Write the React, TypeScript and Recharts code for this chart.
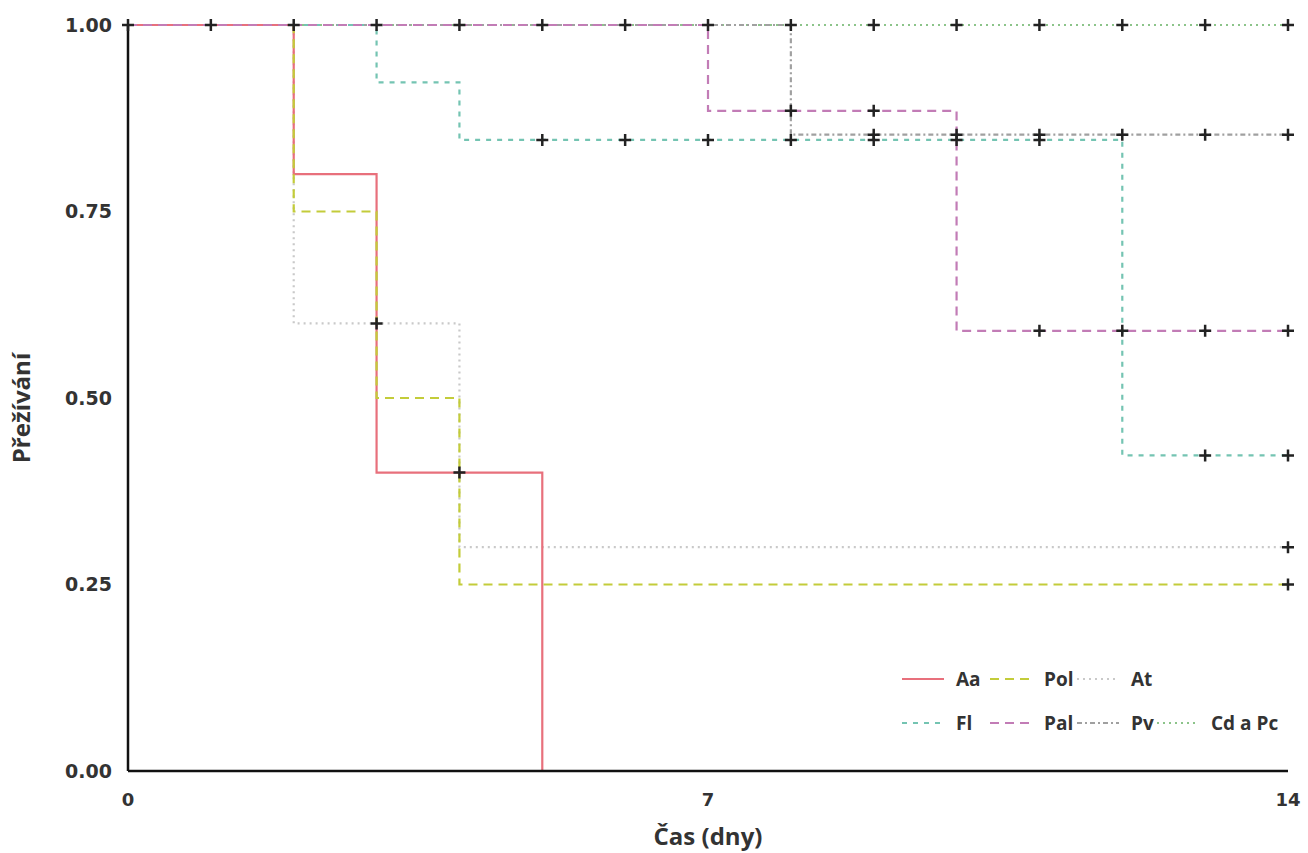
import React from 'react';
import { ComposedChart, Line, Scatter, XAxis, YAxis } from 'recharts';

type Pt = { t: number; s: number };

const xTicks = [0, 7, 14];
const yTicks = [0, 0.25, 0.5, 0.75, 1];

// Kaplan-Meier steps (time in days, survival)
const aa: Pt[] = [
  { t: 0, s: 1 },
  { t: 2, s: 0.8 },
  { t: 3, s: 0.4 },
  { t: 5, s: 0 },
];
const pol: Pt[] = [
  { t: 0, s: 1 },
  { t: 2, s: 0.75 },
  { t: 3, s: 0.5 },
  { t: 4, s: 0.25 },
  { t: 14, s: 0.25 },
];
const at: Pt[] = [
  { t: 0, s: 1 },
  { t: 2, s: 0.6 },
  { t: 4, s: 0.3 },
  { t: 14, s: 0.3 },
];
const fl: Pt[] = [
  { t: 0, s: 1 },
  { t: 3, s: 0.923 },
  { t: 4, s: 0.846 },
  { t: 12, s: 0.423 },
  { t: 14, s: 0.423 },
];
const pal: Pt[] = [
  { t: 0, s: 1 },
  { t: 7, s: 0.885 },
  { t: 10, s: 0.59 },
  { t: 14, s: 0.59 },
];
const pv: Pt[] = [
  { t: 0, s: 1 },
  { t: 8, s: 0.853 },
  { t: 14, s: 0.853 },
];
const cdPc: Pt[] = [
  { t: 0, s: 1 },
  { t: 14, s: 1 },
];

// censored observations (+)
const censored: Pt[] = [
  { t: 0, s: 1 }, { t: 1, s: 1 }, { t: 2, s: 1 }, { t: 3, s: 1 }, { t: 4, s: 1 },
  { t: 5, s: 1 }, { t: 6, s: 1 }, { t: 7, s: 1 }, { t: 8, s: 1 }, { t: 9, s: 1 },
  { t: 10, s: 1 }, { t: 11, s: 1 }, { t: 12, s: 1 }, { t: 13, s: 1 }, { t: 14, s: 1 },
  { t: 3, s: 0.6 },
  { t: 4, s: 0.4 },
  { t: 5, s: 0.846 }, { t: 6, s: 0.846 }, { t: 7, s: 0.846 }, { t: 8, s: 0.846 },
  { t: 9, s: 0.846 }, { t: 10, s: 0.846 }, { t: 11, s: 0.846 },
  { t: 8, s: 0.885 }, { t: 9, s: 0.885 },
  { t: 9, s: 0.853 }, { t: 10, s: 0.853 }, { t: 11, s: 0.853 }, { t: 12, s: 0.853 },
  { t: 13, s: 0.853 }, { t: 14, s: 0.853 },
  { t: 11, s: 0.59 }, { t: 12, s: 0.59 }, { t: 13, s: 0.59 }, { t: 14, s: 0.59 },
  { t: 13, s: 0.423 }, { t: 14, s: 0.423 },
  { t: 14, s: 0.3 },
  { t: 14, s: 0.25 },
];

const series = [
  { name: 'Cd a Pc', data: cdPc, color: '#8cc48a', dash: '2 4' },
  { name: 'Pv', data: pv, color: '#a0a0a0', dash: '5 3 2 3' },
  { name: 'At', data: at, color: '#c9c9c9', dash: '2 4' },
  { name: 'Fl', data: fl, color: '#74c4b2', dash: '5 6' },
  { name: 'Aa', data: aa, color: '#e8707c', dash: '' },
  { name: 'Pol', data: pol, color: '#c3cc3a', dash: '9 6' },
  { name: 'Pal', data: pal, color: '#c27cb6', dash: '9 6' },
];

const legendRows = [
  ['Aa', 'Pol', 'At'],
  ['Fl', 'Pal', 'Pv', 'Cd a Pc'],
];
const legendCols = [902, 990, 1077, 1157];

const font = '"Open Sans", sans-serif';

const Cross = (props: any) => {
  const { cx, cy } = props;
  return (
    <path
      d={`M${cx - 6},${cy}h12M${cx},${cy - 6}v12`}
      stroke="#222"
      strokeWidth={2.5}
      fill="none"
    />
  );
};

function LegendBox() {
  return (
    <>
      {legendRows.map((row, r) =>
        row.map((name, c) => {
          const s = series.find((x) => x.name === name)!;
          return (
            <div
              key={name}
              style={{
                position: 'absolute',
                left: legendCols[c],
                top: 666 + r * 44,
                display: 'flex',
                alignItems: 'center',
                fontFamily: font,
                fontWeight: 700,
                fontSize: 19,
                color: '#333',
              }}
            >
              <svg width={42} height={10}>
                <line
                  x1={0}
                  y1={5}
                  x2={42}
                  y2={5}
                  stroke={s.color}
                  strokeWidth={2}
                  strokeDasharray={s.dash}
                />
              </svg>
              <span style={{ marginLeft: 12 }}>{name}</span>
            </div>
          );
        })
      )}
    </>
  );
}

export default function App() {
  return (
    <div style={{ position: 'absolute', left: 0, top: 0, width: 1308, height: 853, background: '#fff' }}>
      <ComposedChart
        width={1308}
        height={853}
        margin={{ top: 25, right: 20, bottom: 22, left: 28 }}
      >
        <XAxis
          dataKey="t"
          type="number"
          domain={[0, 14]}
          ticks={xTicks}
          axisLine={{ stroke: '#111', strokeWidth: 2.5 }}
          tickLine={false}
          tickSize={0}
          tickMargin={22}
          height={60}
          tick={{ fill: '#333', fontFamily: '"DejaVu Sans", sans-serif', fontWeight: 700, fontSize: 18 }}
          label={(p: any) => {
            const vb = p.viewBox;
            return (
              <text
                x={vb.x + vb.width / 2}
                y={845}
                textAnchor="middle"
                fill="#333"
                fontFamily={font}
                fontWeight={700}
                fontSize={24}
              >
                Čas (dny)
              </text>
            );
          }}
        />
        <YAxis
          type="number"
          domain={[0, 1]}
          ticks={yTicks}
          width={100}
          axisLine={{ stroke: '#111', strokeWidth: 2.5 }}
          tickLine={false}
          tickSize={0}
          tickMargin={16}
          tickFormatter={(v: number) => v.toFixed(2)}
          tick={{ fill: '#333', fontFamily: '"DejaVu Sans", sans-serif', fontWeight: 700, fontSize: 19 }}
          label={(p: any) => {
            const vb = p.viewBox;
            const cy = vb.y + vb.height / 2 + 10;
            return (
              <text
                x={30}
                y={cy}
                transform={`rotate(-90 30 ${cy})`}
                textAnchor="middle"
                fill="#333"
                fontFamily={font}
                fontWeight={700}
                fontSize={24}
              >
                Přežívání
              </text>
            );
          }}
        />
        {series.map((s) => (
          <Line
            key={s.name}
            name={s.name}
            data={s.data}
            dataKey="s"
            type="stepAfter"
            stroke={s.color}
            strokeWidth={2.2}
            strokeDasharray={s.dash || undefined}
            dot={false}
            activeDot={false}
            isAnimationActive={false}
          />
        ))}
        <Scatter
          name="censored"
          data={censored}
          dataKey="s"
          shape={Cross}
          legendType="none"
          isAnimationActive={false}
        />
      </ComposedChart>
      <LegendBox />
    </div>
  );
}
